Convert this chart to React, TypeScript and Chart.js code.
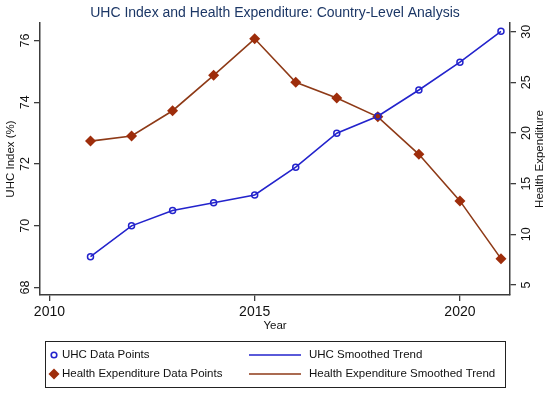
import React, { useEffect, useRef } from "react";
import { Chart, registerables } from "chart.js";

Chart.register(...registerables);

const years = [2011, 2012, 2013, 2014, 2015, 2016, 2017, 2018, 2019, 2020, 2021];
const uhcValues = [69.0, 70.0, 70.5, 70.75, 71.0, 71.9, 73.0, 73.55, 74.4, 75.3, 76.3];
const healthExpValues = [19.2, 19.7, 22.2, 25.7, 29.3, 25.0, 23.45, 21.6, 17.9, 13.3, 7.6];
const xTicks = [2010, 2015, 2020];
const uhcTicks = [68, 70, 72, 74, 76];
const healthTicks = [5, 10, 15, 20, 25, 30];

const TITLE = "UHC Index and Health Expenditure: Country-Level Analysis";
const X_TITLE = "Year";
const Y_TITLE = "UHC Index (%)";
const Y1_TITLE = "Health Expenditure";

const BLUE = "#2323cc";
const BROWN_LINE = "#8e3a17";
const BROWN_MARK = "#9e2d0b";
const AXIS = "#3c3c3c";
const FONT = "'Liberation Sans', Arial, sans-serif";

const textPlugin = {
  id: "stataText",
  afterDraw(chart: any) {
    const ctx = chart.ctx;
    const { x, y, y1 } = chart.scales;
    const area = chart.chartArea;
    ctx.save();
    // Title
    ctx.fillStyle = "#1c3766";
    ctx.font = `14px ${FONT}`;
    ctx.textAlign = "center";
    ctx.textBaseline = "middle";
    ctx.fillText(TITLE, 275, 13);

    ctx.fillStyle = "#111";
    // X tick labels
    ctx.font = `14px ${FONT}`;
    xTicks.forEach((v) => ctx.fillText(String(v), x.getPixelForValue(v), 312));
    // X title
    ctx.font = `11.5px ${FONT}`;
    ctx.fillText(X_TITLE, (area.left + area.right) / 2, 326);

    const rot = (txt: string, px: number, py: number) => {
      ctx.save();
      ctx.translate(px, py);
      ctx.rotate(-Math.PI / 2);
      ctx.fillText(txt, 0, 0);
      ctx.restore();
    };
    ctx.font = `12.5px ${FONT}`;
    uhcTicks.forEach((v) => rot(String(v), 26, y.getPixelForValue(v)));
    healthTicks.forEach((v) => rot(String(v), 527, y1.getPixelForValue(v)));
    ctx.font = `11.5px ${FONT}`;
    const midY = (area.top + area.bottom) / 2;
    rot(Y_TITLE, 11, midY);
    rot(Y1_TITLE, 540, midY);

    // Legend
    const ds = chart.data.datasets;
    const lx = 45, ly = 341, lw = 460, lh = 46;
    ctx.strokeStyle = "#222";
    ctx.lineWidth = 1;
    ctx.strokeRect(lx + 0.5, ly + 0.5, lw, lh);
    const rows = [355, 374];
    ctx.textAlign = "left";
    ctx.font = `11.5px ${FONT}`;
    ctx.fillStyle = "#111";
    // column 1: markers
    [0, 1].forEach((i) => {
      const d = ds[i];
      const cy = rows[i];
      if (d.pointStyle === "rectRot") {
        ctx.save();
        ctx.fillStyle = d.pointBackgroundColor;
        ctx.beginPath();
        const r = 5.5;
        ctx.moveTo(54, cy - r);
        ctx.lineTo(54 + r, cy);
        ctx.lineTo(54, cy + r);
        ctx.lineTo(54 - r, cy);
        ctx.closePath();
        ctx.fill();
        ctx.restore();
      } else {
        ctx.save();
        ctx.strokeStyle = d.pointBorderColor;
        ctx.lineWidth = 1.6;
        ctx.beginPath();
        ctx.arc(54, cy, 2.8, 0, Math.PI * 2);
        ctx.stroke();
        ctx.restore();
      }
      ctx.fillStyle = "#111";
      ctx.fillText(d.label, 62, cy);
    });
    // column 2: lines
    [2, 3].forEach((i, k) => {
      const d = ds[i];
      const cy = rows[k];
      ctx.save();
      ctx.strokeStyle = d.borderColor;
      ctx.lineWidth = 1.6;
      ctx.beginPath();
      ctx.moveTo(249, cy);
      ctx.lineTo(301, cy);
      ctx.stroke();
      ctx.restore();
      ctx.fillStyle = "#111";
      ctx.fillText(d.label, 309, cy);
    });
    ctx.restore();
  },
};

export default function App() {
  const ref = useRef<HTMLCanvasElement | null>(null);
  useEffect(() => {
    if (!ref.current) return;
    const uhcPts = years.map((yr, i) => ({ x: yr, y: uhcValues[i] }));
    const hePts = years.map((yr, i) => ({ x: yr, y: healthExpValues[i] }));
    const axisCommon = (ticks: number[]) => ({
      afterBuildTicks: (s: any) => {
        s.ticks = ticks.map((v) => ({ value: v }));
      },
      grid: { drawOnChartArea: false, drawTicks: true, tickLength: 6, color: AXIS, lineWidth: 1.3 },
      border: { display: true, color: AXIS, width: 1.5 },
      ticks: { display: false },
    });
    const chart = new Chart(ref.current, {
      type: "line",
      data: {
        datasets: [
          {
            label: "UHC Data Points",
            data: uhcPts,
            yAxisID: "y",
            showLine: false,
            pointStyle: "circle",
            pointRadius: 3,
            pointBorderWidth: 1.5,
            pointBorderColor: BLUE,
            pointBackgroundColor: "rgba(255,255,255,0)",
            borderColor: BLUE,
          } as any,
          {
            label: "Health Expenditure Data Points",
            data: hePts,
            yAxisID: "y1",
            showLine: false,
            pointStyle: "rectRot",
            pointRadius: 5.5,
            pointBorderWidth: 0,
            pointBorderColor: BROWN_MARK,
            pointBackgroundColor: BROWN_MARK,
            borderColor: BROWN_MARK,
          } as any,
          {
            label: "UHC Smoothed Trend",
            data: uhcPts,
            yAxisID: "y",
            borderColor: BLUE,
            borderWidth: 1.6,
            pointRadius: 0,
            tension: 0,
            fill: false,
          },
          {
            label: "Health Expenditure Smoothed Trend",
            data: hePts,
            yAxisID: "y1",
            borderColor: BROWN_LINE,
            borderWidth: 1.6,
            pointRadius: 0,
            tension: 0,
            fill: false,
          },
        ],
      },
      options: {
        responsive: false,
        animation: false,
        devicePixelRatio: 1,
        layout: { padding: { left: 34, right: 34, top: 23, bottom: 92 } },
        plugins: { legend: { display: false }, title: { display: false }, tooltip: { enabled: false } },
        scales: {
          x: { type: "linear", min: 2009.77, max: 2021.22, ...axisCommon(xTicks) } as any,
          y: { type: "linear", position: "left", min: 67.76, max: 76.57, ...axisCommon(uhcTicks) } as any,
          y1: { type: "linear", position: "right", min: 4.01, max: 30.86, ...axisCommon(healthTicks) } as any,
        },
      },
      plugins: [textPlugin],
    });
    return () => chart.destroy();
  }, []);
  return (
    <div style={{ position: "absolute", left: 0, top: 0, width: 550, height: 393, background: "#fff" }}>
      <canvas ref={ref} width={550} height={393} />
    </div>
  );
}
